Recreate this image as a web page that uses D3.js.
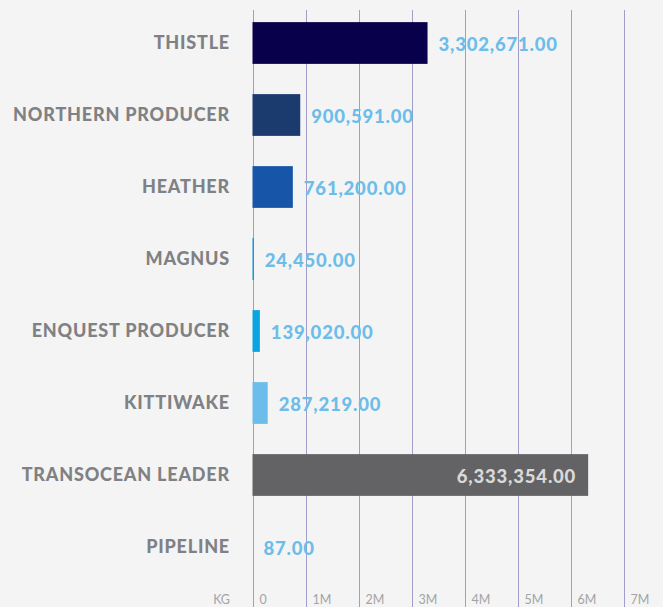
<!DOCTYPE html>
<html>
<head>
<meta charset="utf-8">
<script src="https://cdn.jsdelivr.net/npm/d3@7"></script>
<style>
  html, body { margin: 0; padding: 0; background: #f4f4f4; }
  svg { display: block; }
</style>
</head>
<body>
<svg id="chart"></svg>
<script>
// Data
const categories = ["THISTLE", "NORTHERN PRODUCER", "HEATHER", "MAGNUS",
  "ENQUEST PRODUCER", "KITTIWAKE", "TRANSOCEAN LEADER", "PIPELINE"];
const values = [3302671, 900591, 761200, 24450, 139020, 287219, 6333354, 87];
const barColors = ["#08004a", "#1b3b6f", "#1655a8", "#0a8fd2", "#0aa4e1", "#6cbde9", "#636365", "#6cbde9"];
const tickValues = [0, 1e6, 2e6, 3e6, 4e6, 5e6, 6e6, 7e6];
const tickLabels = ["0", "1M", "2M", "3M", "4M", "5M", "6M", "7M"];
const unitLabel = "KG";

const width = 663, height = 607;
const margin = { left: 252.5, right: 39.5, top: 7, bottom: 24 };

const svg = d3.select("#chart").attr("width", width).attr("height", height);

svg.append("rect").attr("width", width).attr("height", height).attr("fill", "#f4f4f4");

const x = d3.scaleLinear()
  .domain([0, 7e6])
  .range([margin.left, width - margin.right]);

const y = d3.scaleBand()
  .domain(categories)
  .range([margin.top, height - margin.bottom])
  .paddingInner(0.42)
  .paddingOuter(0.21);

// Vertical gridlines
svg.append("g")
  .selectAll("line")
  .data(tickValues)
  .enter().append("line")
  .attr("x1", d => Math.round(x(d)) + 0.5)
  .attr("x2", d => Math.round(x(d)) + 0.5)
  .attr("y1", 10)
  .attr("y2", height)
  .attr("stroke", "#a29ccb")
  .attr("stroke-width", 1);

// Bars
const rows = categories.map((c, i) => ({ cat: c, value: values[i], color: barColors[i] }));

svg.append("g")
  .selectAll("rect")
  .data(rows)
  .enter().append("rect")
  .attr("x", x(0))
  .attr("y", d => y(d.cat))
  .attr("width", d => x(d.value) - x(0))
  .attr("height", y.bandwidth())
  .attr("fill", d => d.color);

// Category labels
svg.append("g")
  .selectAll("text")
  .data(rows)
  .enter().append("text")
  .attr("x", 230)
  .attr("y", d => y(d.cat) + y.bandwidth() / 2)
  .attr("dy", "0.35em")
  .attr("text-anchor", "end")
  .attr("font-family", "Lato, sans-serif")
  .attr("font-weight", 900)
  .attr("font-size", 18)
  .attr("letter-spacing", 0.8)
  .attr("fill", "#808184")
  .text(d => d.cat);

// Value labels
const fmt = d3.format(",.2f");
const maxVal = d3.max(values);
svg.append("g")
  .selectAll("text")
  .data(rows)
  .enter().append("text")
  .attr("x", d => d.value === maxVal ? x(d.value) - 12 : x(d.value) + 11)
  .attr("y", d => y(d.cat) + y.bandwidth() / 2 + 2)
  .attr("dy", "0.35em")
  .attr("text-anchor", d => d.value === maxVal ? "end" : "start")
  .attr("font-family", "Lato, sans-serif")
  .attr("font-weight", 900)
  .attr("font-size", 18.5)
  .attr("letter-spacing", 0.8)
  .attr("fill", d => d.value === maxVal ? "#d9d9d9" : "#6cbde9")
  .text(d => fmt(d.value));

// Axis tick labels
svg.append("g")
  .selectAll("text")
  .data(tickValues)
  .enter().append("text")
  .attr("x", d => x(d) + 7)
  .attr("y", 604)
  .attr("font-family", "Lato, sans-serif")
  .attr("font-size", 12.5)
  .attr("fill", "#a3a3a6")
  .text((d, i) => tickLabels[i]);

svg.append("text")
  .attr("x", 230)
  .attr("y", 604)
  .attr("text-anchor", "end")
  .attr("font-family", "Lato, sans-serif")
  .attr("font-size", 12.5)
  .attr("fill", "#a3a3a6")
  .text(unitLabel);
</script>
</body>
</html>
